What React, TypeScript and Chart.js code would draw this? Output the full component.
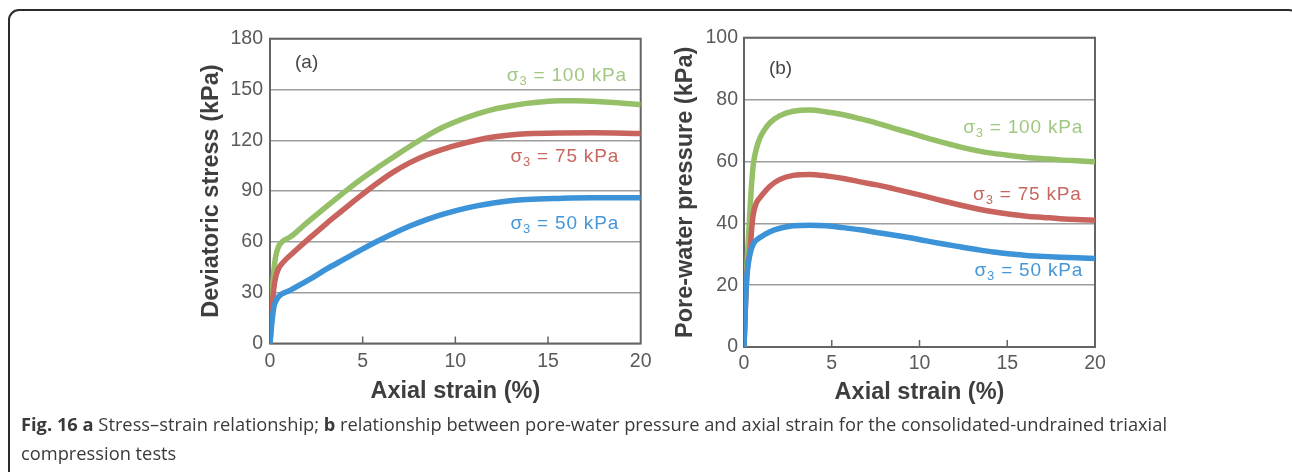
import React, { useEffect, useRef } from "react";
import { Chart, registerables } from "chart.js";

Chart.register(...registerables);

// ---------- shared ticks ----------
const strainTicks = [0, 5, 10, 15, 20];
const stressTicks = [0, 30, 60, 90, 120, 150, 180];
const poreTicks = [0, 20, 40, 60, 80, 100];

// ---------- (a) deviatoric stress vs axial strain ----------
const aStrain100 = [0, 0.1, 0.2, 0.3, 0.45, 0.7, 1.0, 1.26, 1.7, 2.16, 3.06, 3.96, 4.86, 5.76, 6.65, 7.55, 8.45, 9.35, 10.25, 11.15, 12.05, 12.95, 13.85, 14.75, 15.65, 16.5, 17.4, 18.3, 19.2, 20];
const aStress100 = [0, 25, 42, 51, 57, 60.5, 62.3, 64.2, 68.5, 72.8, 81, 89, 96.6, 103.5, 110, 116.5, 122.5, 127.8, 132, 135.5, 138.3, 140.3, 141.8, 142.8, 143.3, 143.3, 143, 142.5, 141.8, 141];

const aStrain75 = [0, 0.1, 0.2, 0.3, 0.45, 0.8, 1.26, 2.16, 3.06, 3.96, 4.86, 5.76, 6.65, 7.55, 8.45, 9.35, 10.25, 11.15, 12.05, 12.95, 13.85, 15.65, 17.4, 20];
const aStress75 = [0, 18, 32, 39, 44, 49, 53.7, 62.5, 71, 79, 87, 94.5, 101.2, 106.8, 111.3, 114.8, 117.6, 120, 121.9, 123.1, 123.8, 124.3, 124.4, 124];

const aStrain50 = [0, 0.1, 0.2, 0.36, 0.6, 1.0, 1.26, 2.16, 3.06, 3.96, 4.86, 5.76, 6.65, 7.55, 8.45, 9.35, 10.25, 11.15, 12.05, 12.95, 13.85, 15.65, 17.4, 20];
const aStress50 = [0, 12, 21, 26, 29, 31, 32.5, 38, 44, 49.5, 55, 60.2, 65, 69.4, 73.2, 76.4, 79.1, 81.3, 83, 84.3, 85.1, 85.7, 86, 86];

// ---------- (b) pore-water pressure vs axial strain ----------
const bStrain100 = [0, 0.1, 0.2, 0.3, 0.4, 0.53, 0.7, 0.91, 1.2, 1.48, 2.05, 2.81, 3.76, 4.71, 5.66, 6.61, 7.56, 8.5, 9.46, 10.4, 11.36, 12.3, 13.26, 14.2, 15.16, 16.1, 17.06, 18, 18.95, 20];
const bPore100 = [0, 18, 30, 40, 50, 59, 64, 67.6, 70.5, 72.5, 74.8, 76.2, 76.6, 76, 75.1, 73.8, 72.4, 70.8, 69.2, 67.6, 66.1, 64.7, 63.5, 62.6, 61.9, 61.3, 60.9, 60.5, 60.2, 59.9];

const bStrain75 = [0, 0.1, 0.2, 0.34, 0.45, 0.53, 0.7, 0.91, 1.48, 2.05, 2.81, 3.76, 4.71, 5.66, 6.61, 7.56, 8.5, 9.46, 10.4, 11.36, 12.3, 13.26, 14.2, 15.16, 16.1, 17.06, 18, 18.95, 20];
const bPore75 = [0, 16, 26, 31, 39, 43, 46.5, 48.3, 52, 54.2, 55.5, 55.8, 55.3, 54.5, 53.4, 52.4, 51.2, 49.9, 48.6, 47.2, 45.9, 44.7, 43.7, 42.9, 42.3, 41.9, 41.5, 41.2, 41];

const bStrain50 = [0, 0.05, 0.1, 0.15, 0.25, 0.34, 0.53, 0.91, 1.48, 2.05, 2.81, 3.76, 4.71, 5.66, 6.61, 7.56, 8.5, 9.46, 10.4, 11.36, 12.3, 13.26, 14.2, 15.16, 16.1, 17.06, 18, 18.95, 20];
const bPore50 = [0, 8, 16, 22, 27, 30, 33.3, 35.4, 37.3, 38.4, 39.2, 39.4, 39.2, 38.6, 37.9, 37, 36.2, 35.3, 34.3, 33.3, 32.4, 31.5, 30.7, 30.1, 29.6, 29.3, 29.05, 28.85, 28.6];

const seriesLabels = ["σ3 = 100 kPa", "σ3 = 75 kPa", "σ3 = 50 kPa"];

// ---------- styles ----------
const GREEN = "#95c068";
const RED = "#c8645d";
const BLUE = "#3c93d8";
const GREEN_TXT = "#a0c880";
const RED_TXT = "#c86760";
const BLUE_TXT = "#4597d9";
const FRAME = "#646464";
const GRID = "#9c9c9c";
const TICK_COLOR = "#5a5a5a";
const TITLE_COLOR = "#3e3e3e";
const FONT = "'Liberation Sans', Arial, sans-serif";

type Note = { x: number; y: number; main: string; sub: string; rest: string; color: string };

type PanelCfg = {
  left: number; top: number; width: number; height: number;
  areaLeft: number; areaBottom: number; padTop: number; padRight: number;
  yMax: number; yTicks: number[]; yTitle: string;
  yTitlePad: number; xTitlePad: number; xTickPad: number; yTickPad: number;
  series: { x: number[]; y: number[]; color: string; label: string }[];
  tag: { x: number; y: number; text: string };
  notes: Note[];
};

const panelA: PanelCfg = {
  left: 150, top: 20, width: 510, height: 390,
  areaLeft: 120, areaBottom: 323.5, padTop: 18.5, padRight: 19.3,
  yMax: 180, yTicks: stressTicks, yTitle: "Deviatoric stress (kPa)",
  yTitlePad: 47.9, xTitlePad: 4.5, xTickPad: 6, yTickPad: 7,
  series: [
    { x: aStrain50, y: aStress50, color: BLUE, label: seriesLabels[2] },
    { x: aStrain75, y: aStress75, color: RED, label: seriesLabels[1] },
    { x: aStrain100, y: aStress100, color: GREEN, label: seriesLabels[0] },
  ],
  tag: { x: 1.35, y: 165.7, text: "(a)" },
  notes: [
    { x: 19.25, y: 158.4, main: "σ", sub: "3", rest: " = 100 kPa", color: GREEN_TXT },
    { x: 18.83, y: 110.2, main: "σ", sub: "3", rest: " = 75 kPa", color: RED_TXT },
    { x: 18.83, y: 71, main: "σ", sub: "3", rest: " = 50 kPa", color: BLUE_TXT },
  ],
};

const panelB: PanelCfg = {
  left: 650, top: 20, width: 470, height: 390,
  areaLeft: 94, areaBottom: 327, padTop: 16.5, padRight: 25,
  yMax: 100, yTicks: poreTicks, yTitle: "Pore-water pressure (kPa)",
  yTitlePad: 21.2, xTitlePad: 3.2, xTickPad: 5, yTickPad: 6,
  series: [
    { x: bStrain50, y: bPore50, color: BLUE, label: seriesLabels[2] },
    { x: bStrain75, y: bPore75, color: RED, label: seriesLabels[1] },
    { x: bStrain100, y: bPore100, color: GREEN, label: seriesLabels[0] },
  ],
  tag: { x: 1.42, y: 89.9, text: "(b)" },
  notes: [
    { x: 19.32, y: 70.9, main: "σ", sub: "3", rest: " = 100 kPa", color: GREEN_TXT },
    { x: 19.24, y: 49.3, main: "σ", sub: "3", rest: " = 75 kPa", color: RED_TXT },
    { x: 19.32, y: 24.8, main: "σ", sub: "3", rest: " = 50 kPa", color: BLUE_TXT },
  ],
};

function makeDecor(cfg: PanelCfg) {
  return {
    id: "decor",
    beforeDatasetsDraw(chart: any) {
      const { ctx, chartArea: ca, scales } = chart;
      ctx.save();
      ctx.strokeStyle = FRAME;
      ctx.lineWidth = 2;
      ctx.strokeRect(ca.left, ca.top, ca.right - ca.left, ca.bottom - ca.top);
      const xs = scales.x;
      ctx.lineWidth = 1.5;
      xs.ticks.forEach((t: any) => {
        const px = xs.getPixelForValue(t.value);
        if (px <= ca.left + 1 || px >= ca.right - 1) return;
        ctx.beginPath();
        ctx.moveTo(px, ca.bottom);
        ctx.lineTo(px, ca.bottom - 7);
        ctx.stroke();
      });
      ctx.restore();
    },
    afterDraw(chart: any) {
      const { ctx, scales } = chart;
      const xs = scales.x;
      const ys = scales.y;
      ctx.save();
      ctx.textBaseline = "middle";
      ctx.font = `19px ${FONT}`;
      ctx.fillStyle = "#444";
      ctx.textAlign = "left";
      ctx.fillText(cfg.tag.text, xs.getPixelForValue(cfg.tag.x), ys.getPixelForValue(cfg.tag.y));
      cfg.notes.forEach((n) => {
        const mainFont = `19px ${FONT}`;
        const subFont = `13px ${FONT}`;
        try { (ctx as any).letterSpacing = "0.8px"; } catch (e) {}
        ctx.font = mainFont;
        const w1 = ctx.measureText(n.main).width;
        const w3 = ctx.measureText(n.rest).width;
        ctx.font = subFont;
        const w2 = ctx.measureText(n.sub).width;
        const total = w1 + w2 + w3;
        let px = xs.getPixelForValue(n.x) - total;
        const py = ys.getPixelForValue(n.y);
        ctx.fillStyle = n.color;
        ctx.textAlign = "left";
        ctx.font = mainFont;
        ctx.fillText(n.main, px, py);
        px += w1;
        ctx.font = subFont;
        ctx.fillText(n.sub, px, py + 6);
        px += w2;
        ctx.font = mainFont;
        ctx.fillText(n.rest, px, py);
      });
      ctx.restore();
    },
  };
}

function buildChart(canvas: HTMLCanvasElement, cfg: PanelCfg) {
  const datasets = cfg.series.map((s) => ({
    label: s.label,
    data: s.x.map((x, i) => ({ x, y: s.y[i] })),
    borderColor: s.color,
    backgroundColor: s.color,
    borderWidth: 5.5,
    pointRadius: 0,
    cubicInterpolationMode: "monotone" as const,
    fill: false,
  }));
  const tickFont = { family: FONT, size: 19.5 };
  const titleFont = { family: FONT, size: 23.5, weight: "bold" as const };
  return new Chart(canvas, {
    type: "line",
    data: { datasets },
    options: {
      animation: false,
      responsive: false,
      events: [],
      layout: { padding: { top: cfg.padTop, right: cfg.padRight, bottom: 0, left: 0 } },
      plugins: { legend: { display: false }, tooltip: { enabled: false }, title: { display: false } },
      scales: {
        x: {
          type: "linear",
          min: 0,
          max: 20,
          afterBuildTicks: (s: any) => { s.ticks = strainTicks.map((v) => ({ value: v })); },
          ticks: { padding: cfg.xTickPad, font: tickFont, color: TICK_COLOR, maxRotation: 0, autoSkip: false },
          grid: { display: false, drawTicks: false },
          border: { display: false },
          title: { display: true, text: "Axial strain (%)", font: titleFont, color: TITLE_COLOR, padding: { top: 0, bottom: cfg.xTitlePad } },
          afterFit: (s: any) => { s.height = cfg.height - cfg.areaBottom; },
        },
        y: {
          type: "linear",
          min: 0,
          max: cfg.yMax,
          afterBuildTicks: (s: any) => { s.ticks = cfg.yTicks.map((v) => ({ value: v })); },
          ticks: { padding: cfg.yTickPad, font: tickFont, color: TICK_COLOR, autoSkip: false },
          grid: { display: true, drawTicks: false, color: GRID, lineWidth: 1.5 },
          border: { display: false },
          title: { display: true, text: cfg.yTitle, font: titleFont, color: TITLE_COLOR, padding: { top: cfg.yTitlePad, bottom: 0 } },
          afterFit: (s: any) => { s.width = cfg.areaLeft; },
        },
      },
    } as any,
    plugins: [makeDecor(cfg)],
  });
}

function ChartPanel({ cfg }: { cfg: PanelCfg }) {
  const ref = useRef<HTMLCanvasElement | null>(null);
  useEffect(() => {
    if (!ref.current) return;
    const chart = buildChart(ref.current, cfg);
    return () => chart.destroy();
  }, [cfg]);
  return (
    <div style={{ position: "absolute", left: cfg.left, top: cfg.top, width: cfg.width, height: cfg.height }}>
      <canvas ref={ref} width={cfg.width} height={cfg.height} style={{ display: "block", width: cfg.width, height: cfg.height }} />
    </div>
  );
}

export default function App() {
  return (
    <div style={{ position: "fixed", left: 0, top: 0, width: 1292, height: 472, overflow: "hidden", background: "#fff" }}>
      <div style={{ position: "absolute", left: 8, top: 9, width: 1292, height: 520, border: "2px solid #2b2b2b", borderRadius: 11, boxSizing: "border-box" }} />
      <ChartPanel cfg={panelA} />
      <ChartPanel cfg={panelB} />
      <div style={{ position: "absolute", left: 21, top: 409, width: 1260, fontFamily: "'Open Sans', sans-serif", fontSize: 18.3, lineHeight: "29px", color: "#3a3a3a", whiteSpace: "nowrap" }}>
        <b>Fig. 16</b> <b>a</b> Stress–strain relationship; <b>b</b> relationship between pore-water pressure and axial strain for the consolidated-undrained triaxial
        <br />
        compression tests
      </div>
    </div>
  );
}
